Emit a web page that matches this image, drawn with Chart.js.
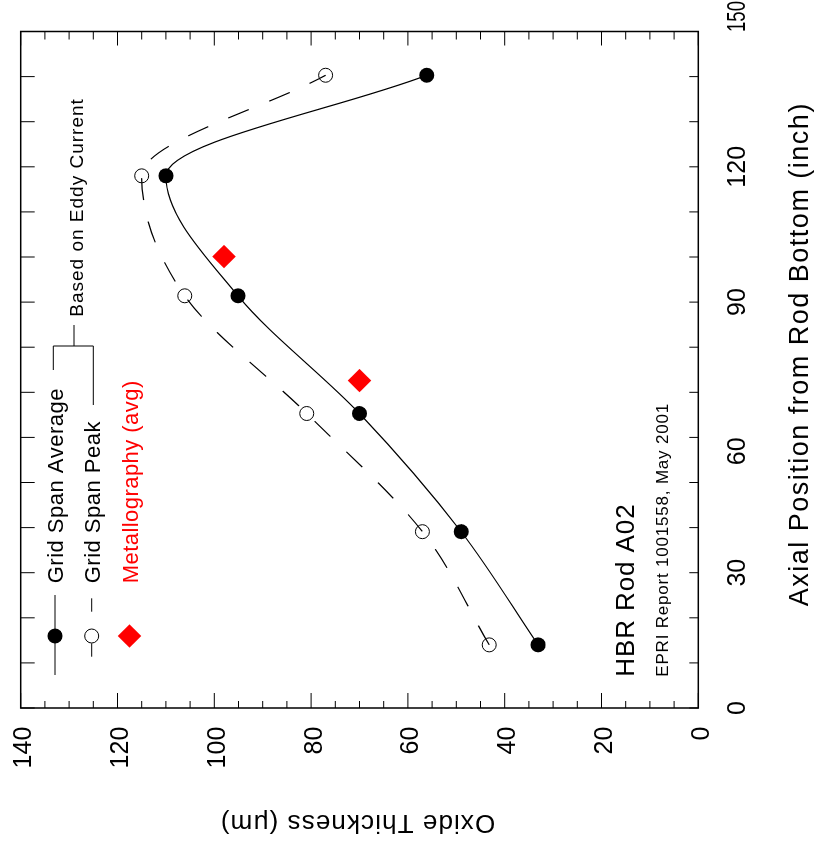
<!DOCTYPE html>
<html>
<head>
<meta charset="utf-8">
<script src="https://cdn.jsdelivr.net/npm/chart.js@4.4.0/dist/chart.umd.min.js"></script>
<style>
  html, body { margin: 0; padding: 0; background: #fff; overflow: hidden; }
  /* the chart is drawn upright and then turned a quarter turn to the left */
  #wrap {
    position: absolute; left: 0; top: 0;
    width: 841px; height: 816px;
    transform-origin: 0 0;
    transform: translateY(841px) rotate(-90deg);
  }
</style>
</head>
<body>
<div id="wrap"><canvas id="oxide-chart" width="841" height="816"></canvas></div>
<script>
// axial position of each grid span (inch) and measured oxide (um)
const axialPos = [14.0, 39.1, 65.3, 91.4, 118.0, 140.3];
const spanAverage = [33.1, 49.0, 70.0, 95.1, 110.0, 56.1];
const spanPeak = [43.2, 57.0, 80.9, 106.1, 115.0, 77.0];
const metalloAxial = [72.6, 100.1];
const metalloOxide = [70.0, 98.0];

const axialTicks = [0, 30, 60, 90, 120, 150];
const axialMinorStep = 10;
const oxideTicks = [0, 20, 40, 60, 80, 100, 120, 140];
const oxideMinorStep = 5;

const FONT = '"Liberation Sans", Arial, Helvetica, sans-serif';

const toPoints = (xs, ys) => xs.map((x, i) => ({ x: x, y: ys[i] }));

function drawText(ctx, str, x, y, size, opts = {}) {
  ctx.font = `${size}px ${FONT}`;
  ctx.fillStyle = opts.color || '#000';
  ctx.textAlign = opts.align || 'left';
  ctx.textBaseline = 'alphabetic';
  ctx.letterSpacing = (opts.spacing || 0) + 'px';
  if (opts.maxWidth) ctx.fillText(str, x, y, opts.maxWidth);
  else ctx.fillText(str, x, y);
  ctx.letterSpacing = '0px';
}

function seg(ctx, x1, y1, x2, y2) {
  ctx.moveTo(x1, y1);
  ctx.lineTo(x2, y2);
}

const decor = {
  id: 'decor',
  afterDraw(chart) {
    const { ctx, chartArea: a, scales: { x, y } } = chart;
    ctx.save();
    ctx.strokeStyle = '#000';

    // frame
    ctx.lineWidth = 1.5;
    ctx.strokeRect(a.left, a.top, a.right - a.left, a.bottom - a.top);

    // inward tick marks
    ctx.lineWidth = 1;
    ctx.beginPath();
    for (let v = 0; v <= 140; v += oxideMinorStep) {
      const py = y.getPixelForValue(v);
      const major = oxideTicks.includes(v);
      seg(ctx, a.left, py, a.left + (major ? 15 : 7), py);
      seg(ctx, a.right, py, a.right - (major ? 14 : 8), py);
    }
    for (let v = 0; v <= 150; v += axialMinorStep) {
      const px = x.getPixelForValue(v);
      seg(ctx, px, a.bottom, px, a.bottom - 9);
      seg(ctx, px, a.top, px, a.top + 14);
    }
    ctx.stroke();

    // tick labels
    oxideTicks.forEach(v => {
      drawText(ctx, String(v), 114.3, y.getPixelForValue(v) + 10.5, 25, { align: 'right' });
    });
    axialTicks.forEach(v => {
      const px = x.getPixelForValue(v);
      if (v === 150) {
        // squeezed into the corner, as in the original
        drawText(ctx, String(v), px + 15, 745, 25, { align: 'center', maxWidth: 31 });
      } else {
        drawText(ctx, String(v), px, 745, 25, { align: v === 60 ? 'right' : 'center' });
      }
    });

    // axis titles
    drawText(ctx, 'Axial Position from Rod Bottom (inch)', 486.8, 808.3, 27, { align: 'center', spacing: 1.5 });
    ctx.save();
    ctx.translate(26, 357.5);
    ctx.rotate(-Math.PI / 2);
    drawText(ctx, 'Oxide Thickness (\u03bcm)', 0, 0, 26, { align: 'center', spacing: 1.1 });
    ctx.restore();

    // legend symbols
    ctx.lineWidth = 1;
    ctx.beginPath();
    seg(ctx, 166, 55, 246, 55);
    seg(ctx, 184.3, 91.7, 197.7, 91.7);
    seg(ctx, 229.3, 91.7, 242.7, 91.7);
    ctx.stroke();
    ctx.fillStyle = '#000';
    ctx.beginPath();
    ctx.arc(205, 55, 7.5, 0, Math.PI * 2);
    ctx.fill();
    ctx.beginPath();
    ctx.arc(205, 91.7, 7, 0, Math.PI * 2);
    ctx.stroke();
    ctx.fillStyle = '#ff0000';
    ctx.beginPath();
    ctx.moveTo(205 - 11.7, 129.5);
    ctx.lineTo(205, 129.5 - 11.7);
    ctx.lineTo(205 + 11.7, 129.5);
    ctx.lineTo(205, 129.5 + 11.7);
    ctx.closePath();
    ctx.fill();

    drawText(ctx, 'Grid Span Average', 257.7, 63.3, 22, { spacing: 0.5 });
    drawText(ctx, 'Grid Span Peak', 257.7, 100, 22, { spacing: 0.5 });
    drawText(ctx, 'Metallography (avg)', 257.7, 138.3, 22, { color: '#ff0000', spacing: 0.45 });

    // bracket for the two eddy current series
    ctx.beginPath();
    seg(ctx, 471, 53.3, 495, 53.3);
    seg(ctx, 436, 93.3, 495, 93.3);
    seg(ctx, 495, 53.3, 495, 93.3);
    seg(ctx, 495, 74, 516, 74);
    ctx.stroke();
    drawText(ctx, 'Based on Eddy Current', 524.3, 83.3, 19, { spacing: 1 });

    // rod note
    drawText(ctx, 'HBR Rod A02', 164.3, 634, 26, { spacing: 0.9 });
    drawText(ctx, 'EPRI Report 1001558, May 2001', 164.3, 668.3, 17, { spacing: 0.8 });

    ctx.restore();
  }
};

const ctx = document.getElementById('oxide-chart').getContext('2d');
const chart = new Chart(ctx, {
  type: 'scatter',
  data: {
    datasets: [
      {
        label: 'Grid Span Average',
        data: toPoints(axialPos, spanAverage),
        showLine: true,
        cubicInterpolationMode: 'monotone',
        borderColor: '#000',
        borderWidth: 1.2,
        pointRadius: 7.5,
        pointBackgroundColor: '#000',
        pointBorderWidth: 0
      },
      {
        label: 'Grid Span Peak',
        data: toPoints(axialPos, spanPeak),
        showLine: true,
        cubicInterpolationMode: 'monotone',
        borderColor: '#000',
        borderWidth: 1.2,
        borderDash: [22, 22],
        pointRadius: 7,
        pointBackgroundColor: 'rgba(0,0,0,0)',
        pointBorderColor: '#000',
        pointBorderWidth: 1
      },
      {
        label: 'Metallography (avg)',
        data: toPoints(metalloAxial, metalloOxide),
        showLine: false,
        pointStyle: 'rectRot',
        pointRadius: 11.7,
        pointBackgroundColor: '#ff0000',
        pointBorderWidth: 0
      }
    ]
  },
  options: {
    responsive: false,
    animation: false,
    devicePixelRatio: 1,
    layout: { padding: { left: 133, right: 31.5, top: 20.7, bottom: 117.7 } },
    plugins: { legend: { display: false }, tooltip: { enabled: false } },
    scales: {
      x: { type: 'linear', min: 0, max: 150, display: false },
      y: { type: 'linear', min: 0, max: 140, display: false }
    }
  },
  plugins: [decor]
});
</script>
</body>
</html>
